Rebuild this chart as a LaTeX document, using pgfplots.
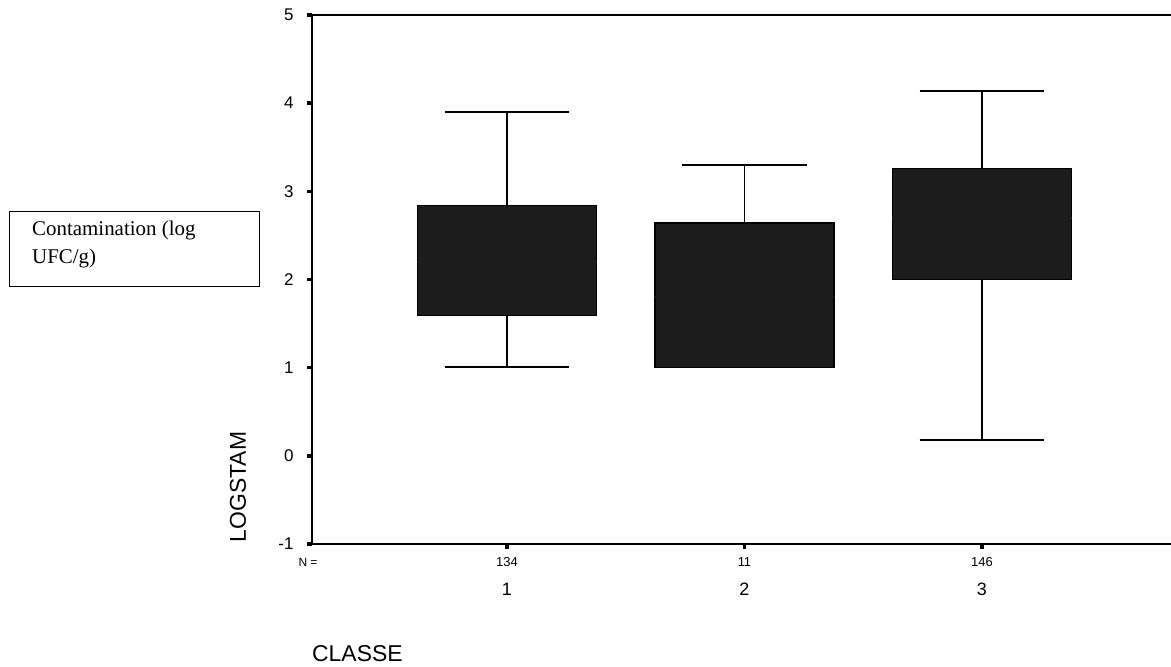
\documentclass[border=0pt]{standalone}
\usepackage{fontspec}
\setmainfont{Liberation Sans}
\newfontfamily\tnr{Liberation Serif}
\usepackage{pgfplots}
\usepgfplotslibrary{statistics}
\pgfplotsset{compat=1.18}
\definecolor{boxfill}{HTML}{1C1C1C}
\begin{document}
\begin{tikzpicture}
\useasboundingbox (-312bp,-123bp) rectangle (859bp,544bp);
\begin{axis}[
  at={(0,0)}, anchor=south west,
  scale only axis, width=859bp, height=529bp,
  xmin=0.179, xmax=3.796, ymin=-1, ymax=5,
  axis x line*=bottom, axis y line*=left,
  axis line style={-, line width=1.6bp, black},
  ytick={-1,0,1,2,3,4,5},
  xtick={1,2,3}, xticklabels={1,2,3},
  tick align=outside, major tick length=5bp,
  tick style={black, line width=3.5bp},
  /pgf/number format/assume math mode=true,
  yticklabel style={font=\fontsize{17}{17}\selectfont, anchor=east, xshift=-10bp},
  xticklabel style={font=\fontsize{18}{18}\selectfont, anchor=center, yshift=-40bp},
  boxplot/draw direction=y,
  boxplot/every median/.style={draw=boxfill, line width=1.5bp},
  clip=false,
]
\draw[line width=1.6bp, black] (rel axis cs:0,1) -- (rel axis cs:1,1);
\addplot[boxplot prepared={draw position=1, lower whisker=1.01, lower quartile=1.59,
  median=2.2, upper quartile=2.84, upper whisker=3.90, box extend=0.754, whisker extend=0.526},
  draw=black, line width=1.5bp, fill=boxfill] coordinates {};
\addplot[boxplot prepared={draw position=2, lower whisker=1.0, lower quartile=1.0,
  median=1.8, upper quartile=2.64, upper whisker=3.30, box extend=0.754, whisker extend=0.526},
  draw=black, line width=1.5bp, fill=boxfill] coordinates {};
\addplot[boxplot prepared={draw position=3, lower whisker=0.18, lower quartile=2.0,
  median=2.7, upper quartile=3.26, upper whisker=4.14, box extend=0.754, whisker extend=0.526},
  draw=black, line width=1.5bp, fill=boxfill] coordinates {};
\node[font=\fontsize{13}{13}\selectfont] at (axis cs:1,-1) [yshift=-18bp] {134};
\node[font=\fontsize{13}{13}\selectfont] at (axis cs:2,-1) [yshift=-18bp] {11};
\node[font=\fontsize{13}{13}\selectfont] at (axis cs:3,-1) [yshift=-18bp] {146};
\end{axis}
\node[font=\fontsize{12}{12}\selectfont] at (-4bp,-18bp) {N =};
\node[font=\fontsize{23}{23}\selectfont, rotate=90] at (-74bp,57bp) {LOGSTAM};
\node[font=\fontsize{23}{23}\selectfont, anchor=west, inner sep=0pt] at (0bp,-110bp) {CLASSE};
\draw[line width=1bp] (-302bp,257bp) rectangle (-52bp,332bp);
\node[font=\tnr\fontsize{21}{21}\selectfont, anchor=base west, inner sep=0pt] at (-280bp,308bp) {Contamination (log};
\node[font=\tnr\fontsize{21}{21}\selectfont, anchor=base west, inner sep=0pt] at (-280bp,280bp) {UFC/g)};
\end{tikzpicture}
\end{document}
